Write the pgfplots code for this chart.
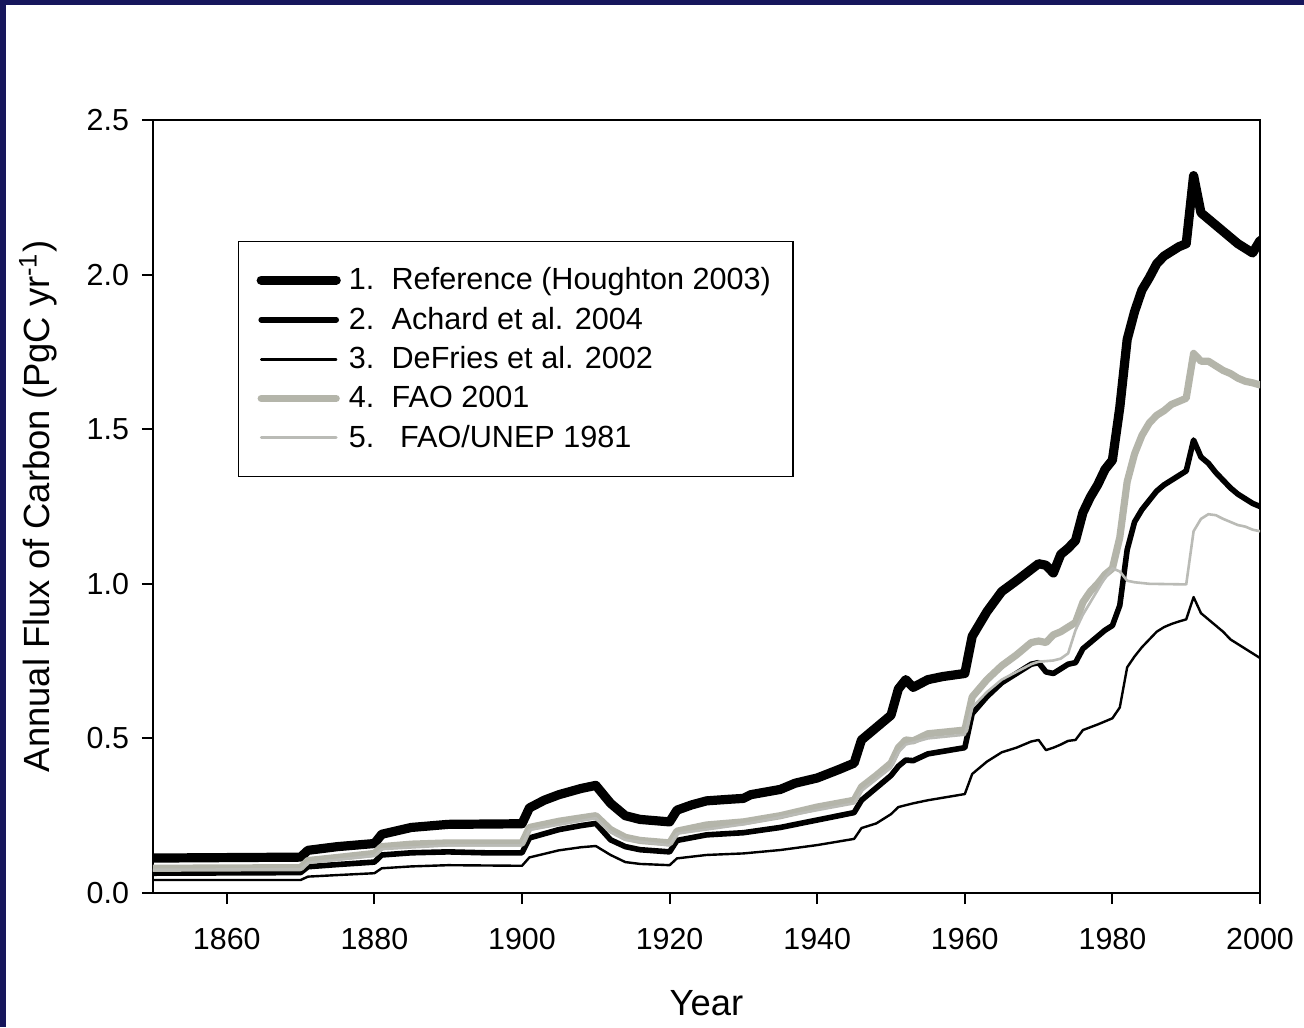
\documentclass[border=0pt]{standalone}
\usepackage{fontspec}
\setmainfont{Liberation Sans}
\usepackage{pgfplots}
\pgfplotsset{compat=1.18}
\definecolor{navy}{RGB}{22,22,92}
\definecolor{faogray}{RGB}{180,181,170}
\definecolor{unepgray}{RGB}{186,187,182}
\begin{document}
\begin{tikzpicture}
\fill[white] (-76.5pt,-67pt) rectangle (575.5pt,446.5pt);
\fill[navy] (-76.5pt,-67pt) rectangle (-73.5pt,446.5pt);
\fill[navy] (-76.5pt,444pt) rectangle (575.5pt,446.5pt);
\begin{axis}[
  at={(0pt,0pt)}, anchor=south west,
  scale only axis, width=553.5pt, height=386.5pt,
  xmin=1850, xmax=2000, ymin=0, ymax=2.5,
  xtick={1860,1880,...,2000}, ytick={0,0.5,1,1.5,2,2.5},
  xtick pos=bottom, ytick pos=left,
  tick align=outside, major tick length=5.5pt,
  axis line style={line width=1pt}, every tick/.style={line width=1pt, black},
  /pgf/number format/assume math mode=true,
  xticklabel style={/pgf/number format/1000 sep={}, font=\fontsize{15.2}{18}\selectfont, yshift=-8.5pt},
  yticklabel style={/pgf/number format/.cd, fixed, fixed zerofill, precision=1, /tikz/.cd, font=\fontsize{15.2}{18}\selectfont, xshift=-3pt},
  xlabel={Year}, ylabel={Annual Flux of Carbon (PgC yr\textsuperscript{-1})},
  xlabel style={at={(axis description cs:0.5,-0.1423)}, anchor=center, font=\fontsize{18.2}{22}\selectfont},
  ylabel style={at={(axis description cs:-0.1039,0.5)}, anchor=center, rotate=0, font=\fontsize{18.2}{22}\selectfont},
  legend image code/.code={\draw[#1] (0pt,0pt) -- (37.5pt,0pt);},
  legend cell align=left,
  legend style={at={(0.0768,0.8435)}, anchor=north west, draw=black, line width=0.6pt,
    font=\fontsize{15.3}{18}\selectfont, inner xsep=9pt, inner ysep=11pt, row sep=3.2pt,
    /tikz/every odd column/.append style={column sep=2pt},
    /tikz/every even column/.append style={column sep=2pt}},
  every axis plot/.append style={line join=round, line cap=round},
]
% 1. Reference (Houghton 2003)
\addplot[black, line width=4.6pt] coordinates {
(1850,0.113) (1870,0.116) (1871,0.138) (1875,0.150) (1880,0.160) (1881,0.190) (1885,0.212)
(1890,0.222) (1900,0.224) (1901,0.275) (1903,0.300) (1905,0.318) (1908,0.338) (1910,0.348)
(1912,0.290) (1914,0.250) (1916,0.238) (1920,0.230) (1921,0.268) (1923,0.285) (1925,0.298)
(1928,0.303) (1930,0.306) (1931,0.318) (1935,0.335) (1937,0.355) (1940,0.372) (1943,0.400)
(1945,0.420) (1946,0.495) (1948,0.535) (1950,0.575) (1951,0.660) (1952,0.690) (1953,0.665)
(1955,0.690) (1957,0.700) (1960,0.710) (1961,0.830) (1963,0.910) (1965,0.975) (1967,1.010)
(1970,1.065) (1971,1.060) (1972,1.035) (1973,1.095) (1974,1.115) (1975,1.140) (1976,1.230)
(1977,1.280) (1978,1.320) (1979,1.370) (1980,1.400) (1981,1.570) (1982,1.790) (1983,1.880)
(1984,1.950) (1985,1.990) (1986,2.035) (1987,2.060) (1988,2.075) (1989,2.090) (1990,2.100)
(1991,2.320) (1992,2.200) (1993,2.180) (1994,2.160) (1995,2.140) (1996,2.120) (1997,2.100)
(1998,2.085) (1999,2.070) (2000,2.110)};
\addlegendentry{\makebox[1.4em][l]{1.}Reference (Houghton 2003)}
% 2. Achard et al. 2004
\addplot[black, line width=2.8pt] coordinates {
(1850,0.064) (1870,0.066) (1871,0.085) (1875,0.092) (1880,0.100) (1881,0.123) (1885,0.130)
(1890,0.133) (1895,0.130) (1900,0.130) (1901,0.178) (1905,0.205) (1908,0.218) (1910,0.225)
(1912,0.172) (1914,0.150) (1916,0.140) (1920,0.133) (1921,0.170) (1925,0.188) (1930,0.195)
(1935,0.212) (1940,0.236) (1945,0.260) (1946,0.300) (1948,0.340) (1950,0.380) (1951,0.410)
(1952,0.430) (1953,0.428) (1955,0.450) (1960,0.470) (1961,0.580) (1963,0.635) (1965,0.680)
(1967,0.710) (1969,0.740) (1970,0.745) (1971,0.715) (1972,0.710) (1973,0.725) (1974,0.740)
(1975,0.745) (1976,0.790) (1977,0.810) (1978,0.830) (1979,0.850) (1980,0.865) (1981,0.930)
(1982,1.110) (1983,1.200) (1984,1.240) (1985,1.270) (1986,1.300) (1987,1.320) (1988,1.335)
(1989,1.350) (1990,1.365) (1991,1.465) (1992,1.410) (1993,1.390) (1994,1.360) (1995,1.335)
(1996,1.310) (1997,1.290) (1998,1.275) (1999,1.260) (2000,1.250)};
\addlegendentry{\makebox[1.4em][l]{2.}Achard et al. 2004}
% 3. DeFries et al. 2002
\addplot[black, line width=1.2pt] coordinates {
(1850,0.042) (1870,0.042) (1871,0.053) (1875,0.058) (1880,0.064) (1881,0.080) (1885,0.086)
(1890,0.090) (1895,0.089) (1900,0.088) (1901,0.115) (1905,0.138) (1908,0.148) (1910,0.152)
(1912,0.123) (1914,0.100) (1916,0.094) (1920,0.090) (1921,0.112) (1925,0.123) (1930,0.128)
(1935,0.139) (1940,0.155) (1945,0.175) (1946,0.210) (1948,0.225) (1950,0.255) (1951,0.278)
(1953,0.290) (1955,0.300) (1960,0.320) (1961,0.385) (1963,0.425) (1965,0.455) (1967,0.470)
(1969,0.490) (1970,0.495) (1971,0.462) (1972,0.470) (1973,0.480) (1974,0.492) (1975,0.495)
(1976,0.527) (1978,0.545) (1980,0.565) (1981,0.600) (1982,0.730) (1983,0.765) (1984,0.795)
(1985,0.820) (1986,0.845) (1987,0.860) (1988,0.870) (1989,0.878) (1990,0.885) (1991,0.957)
(1992,0.905) (1993,0.885) (1994,0.865) (1995,0.845) (1996,0.820) (1997,0.805) (1998,0.790)
(1999,0.775) (2000,0.760)};
\addlegendentry{\makebox[1.4em][l]{3.}DeFries et al. 2002}
% 4. FAO 2001
\addplot[faogray, line width=3.6pt] coordinates {
(1850,0.080) (1870,0.082) (1871,0.105) (1875,0.115) (1880,0.128) (1881,0.150) (1885,0.158)
(1890,0.162) (1900,0.162) (1901,0.212) (1905,0.232) (1908,0.243) (1910,0.250) (1912,0.205)
(1914,0.180) (1916,0.170) (1920,0.162) (1921,0.200) (1925,0.220) (1930,0.230) (1935,0.250)
(1940,0.278) (1945,0.300) (1946,0.343) (1948,0.380) (1950,0.420) (1951,0.470) (1952,0.495)
(1953,0.492) (1955,0.515) (1960,0.527) (1961,0.634) (1963,0.690) (1965,0.735) (1967,0.770)
(1969,0.810) (1970,0.815) (1971,0.810) (1972,0.835) (1973,0.845) (1974,0.860) (1975,0.875)
(1976,0.940) (1977,0.975) (1978,1.000) (1979,1.030) (1980,1.050) (1981,1.150) (1982,1.330)
(1983,1.420) (1984,1.480) (1985,1.520) (1986,1.545) (1987,1.560) (1988,1.580) (1989,1.590)
(1990,1.600) (1991,1.745) (1992,1.720) (1993,1.720) (1994,1.705) (1995,1.690) (1996,1.680)
(1997,1.665) (1998,1.655) (1999,1.650) (2000,1.643)};
\addlegendentry{\makebox[1.4em][l]{4.}FAO 2001}
% 5. FAO/UNEP 1981
\addplot[unepgray, line width=1.3pt] coordinates {
(1850,0.075) (1870,0.077) (1871,0.098) (1880,0.120) (1881,0.142) (1890,0.154) (1900,0.154)
(1901,0.204) (1910,0.242) (1912,0.197) (1914,0.172) (1920,0.154) (1921,0.192) (1930,0.222)
(1940,0.268) (1945,0.290) (1946,0.330) (1950,0.405) (1951,0.455) (1952,0.480) (1955,0.500)
(1960,0.512) (1961,0.600) (1963,0.650) (1965,0.690) (1967,0.715) (1969,0.740) (1970,0.748)
(1972,0.752) (1973,0.758) (1974,0.775) (1975,0.850) (1976,0.900) (1977,0.940) (1978,0.980)
(1979,1.020) (1980,1.050) (1981,1.040) (1982,1.010) (1983,1.005) (1985,1.000) (1990,0.998)
(1991,1.170) (1992,1.210) (1993,1.225) (1994,1.222) (1995,1.210) (1996,1.200) (1997,1.190)
(1998,1.185) (1999,1.175) (2000,1.170)};
\addlegendentry{\makebox[1.4em][l]{5.}\ FAO/UNEP 1981}
\end{axis}
\end{tikzpicture}
\end{document}
